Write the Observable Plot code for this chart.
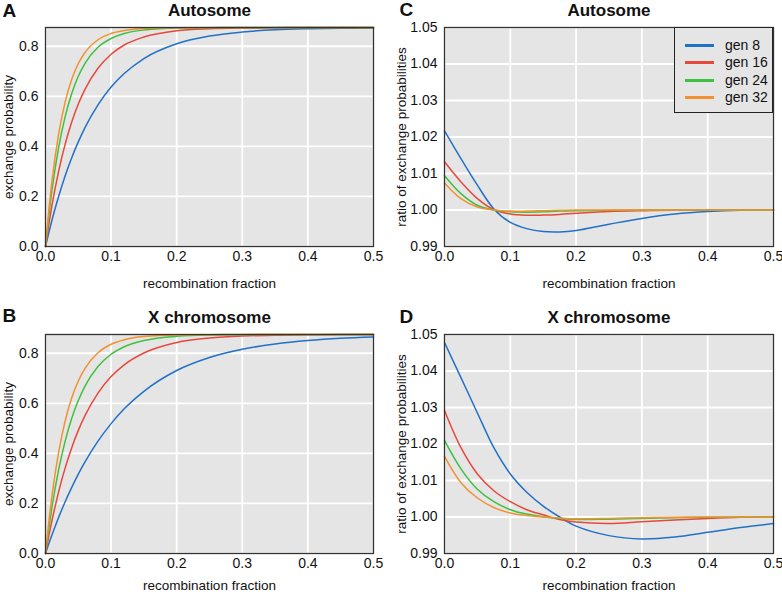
<!DOCTYPE html>
<html><head><meta charset="utf-8">
<script src="https://cdn.jsdelivr.net/npm/d3@7"></script>
<script src="https://cdn.jsdelivr.net/npm/@observablehq/plot@0.6"></script>
<style>
body{margin:0;background:#fff;}
#wrap{position:relative;width:782px;height:594px;font-family:"Liberation Sans",Arial,sans-serif;}
.panel{position:absolute;}
#legend{position:absolute;left:674px;top:27px;width:99px;height:86px;box-sizing:border-box;border:1.2px solid #222;background:#e5e5e5;}
.li{position:absolute;left:0;height:18px;width:100%;}
.sw{position:absolute;left:10px;width:29px;height:3px;top:8px;}
.lt{position:absolute;left:50px;top:0;font-size:14px;line-height:18px;color:#111;}
</style></head><body><div id="wrap"></div>
<script>
const gens = ["gen 8", "gen 16", "gen 24", "gen 32"];
const colors = ["#2271c8", "#e8483c", "#40c040", "#f39130"];
const xTicks = [0, 0.1, 0.2, 0.3, 0.4, 0.5];
const exchTicks = [0, 0.2, 0.4, 0.6, 0.8];
const ratioTicks = [0.99, 1.00, 1.01, 1.02, 1.03, 1.04, 1.05];

// exchange probabilities (panels A, B)
const rExch = [0, 0.005, 0.01, 0.02, 0.03, 0.04, 0.05, 0.06, 0.08, 0.1, 0.12, 0.15, 0.2, 0.25, 0.3, 0.35, 0.4, 0.45, 0.5];
const autoExch8  = [0, 0.055, 0.107, 0.200, 0.283, 0.355, 0.418, 0.474, 0.566, 0.637, 0.691, 0.751, 0.810, 0.841, 0.857, 0.866, 0.870, 0.872, 0.873];
const autoExch16 = [0, 0.087, 0.166, 0.300, 0.409, 0.497, 0.569, 0.627, 0.712, 0.768, 0.805, 0.837, 0.862, 0.870, 0.873, 0.874, 0.875, 0.875, 0.875];
const autoExch24 = [0, 0.122, 0.227, 0.395, 0.519, 0.611, 0.680, 0.731, 0.796, 0.831, 0.851, 0.865, 0.873, 0.874, 0.875, 0.875, 0.875, 0.875, 0.875];
const autoExch32 = [0, 0.144, 0.264, 0.449, 0.578, 0.668, 0.731, 0.774, 0.826, 0.851, 0.863, 0.871, 0.874, 0.875, 0.875, 0.875, 0.875, 0.875, 0.875];
const xExch8  = [0, 0.039, 0.075, 0.144, 0.207, 0.264, 0.317, 0.365, 0.449, 0.519, 0.578, 0.648, 0.731, 0.783, 0.816, 0.837, 0.851, 0.860, 0.865];
const xExch16 = [0, 0.069, 0.133, 0.246, 0.342, 0.423, 0.492, 0.550, 0.641, 0.707, 0.754, 0.801, 0.843, 0.861, 0.869, 0.872, 0.874, 0.875, 0.875];
const xExch24 = [0, 0.099, 0.187, 0.334, 0.449, 0.540, 0.611, 0.668, 0.747, 0.796, 0.826, 0.851, 0.868, 0.873, 0.874, 0.875, 0.875, 0.875, 0.875];
const xExch32 = [0, 0.126, 0.233, 0.404, 0.530, 0.622, 0.689, 0.739, 0.802, 0.836, 0.854, 0.867, 0.873, 0.874, 0.875, 0.875, 0.875, 0.875, 0.875];

// ratios of exchange probabilities (panels C, D)
const rRatio = [0, 0.025, 0.05, 0.075, 0.1, 0.125, 0.15, 0.175, 0.2, 0.25, 0.3, 0.35, 0.4, 0.45, 0.5];
const autoRatio8  = [1.0217, 1.0141, 1.0068, 1.0003, 0.9966, 0.9949, 0.9941, 0.9940, 0.9944, 0.9961, 0.9977, 0.9989, 0.9996, 0.99995, 1.0000];
const autoRatio16 = [1.0132, 1.0077, 1.0031, 1.0001, 0.9989, 0.99855, 0.9986, 0.9988, 0.9991, 0.9996, 0.9998, 0.9999, 1.0, 1.0, 1.0];
const autoRatio24 = [1.0094, 1.0045, 1.0013, 1.0000, 0.9995, 0.9994, 0.9995, 0.9997, 0.9998, 0.9999, 1.0, 1.0, 1.0, 1.0, 1.0];
const autoRatio32 = [1.0074, 1.0031, 1.0008, 1.0000, 0.9997, 0.9997, 0.9998, 0.9999, 1.0, 1.0, 1.0, 1.0, 1.0, 1.0, 1.0];
const xRatio8  = [1.0478, 1.0382, 1.0285, 1.0190, 1.0118, 1.0068, 1.0030, 1.0000, 0.9975, 0.9949, 0.9940, 0.9945, 0.9958, 0.9971, 0.9982];
const xRatio16 = [1.0292, 1.0190, 1.0118, 1.0072, 1.0042, 1.0020, 1.0006, 0.9993, 0.9986, 0.9982, 0.9987, 0.9992, 0.9996, 0.9999, 1.0];
const xRatio24 = [1.0210, 1.0132, 1.0076, 1.0042, 1.0020, 1.0008, 1.0001, 0.9996, 0.9993, 0.9994, 0.9996, 0.9998, 0.9999, 1.0, 1.0];
const xRatio32 = [1.0166, 1.0094, 1.0052, 1.0026, 1.0011, 1.0004, 1.0000, 0.9997, 0.9995, 0.9996, 0.9998, 0.9999, 1.0, 1.0, 1.0];

function makeTable(r, series) {
  const rows = [];
  series.forEach((vals, i) => vals.forEach((v, j) => rows.push({r: r[j], v, gen: gens[i]})));
  return rows;
}

const FONT = '"Liberation Sans", Arial, Helvetica, sans-serif';

function panel(o) {
  return Plot.plot({
    width: 391, height: 297,
    marginTop: o.mt, marginBottom: o.mb, marginLeft: o.ml, marginRight: o.mr,
    style: {fontFamily: FONT, fontSize: "14px", background: "white", overflow: "visible", color: "#111"},
    x: {domain: [0, 0.5]},
    y: {domain: o.yDomain},
    color: {domain: gens, range: colors},
    marks: [
      Plot.frame({fill: "#e5e5e5"}),
      Plot.gridX(xTicks, {stroke: "white", strokeOpacity: 1, strokeWidth: 1.8}),
      Plot.gridY(o.yTicks, {stroke: "white", strokeOpacity: 1, strokeWidth: 1.8}),
      Plot.axisX(xTicks, {tickSize: 0, tickPadding: 5, tickFormat: d3.format(".1f"), label: null, fontSize: 14}),
      Plot.axisY(o.yTicks, {tickSize: 0, tickPadding: 7, tickFormat: d3.format(o.yFmt), label: null, fontSize: 14}),
      Plot.line(o.rows, {x: "r", y: "v", stroke: "gen", strokeWidth: 1.5, curve: o.curve}),
      Plot.frame({stroke: "#333", strokeWidth: 1.3}),
      Plot.text([o.title], {text: d => d, frameAnchor: "top", dy: -17, lineAnchor: "middle", textAnchor: "middle", fontWeight: "bold", fontSize: 17}),
      Plot.text([o.letter], {text: d => d, frameAnchor: "top-left", dx: o.letterDx, dy: o.letterDy, textAnchor: "start", lineAnchor: "middle", fontWeight: "bold", fontSize: 19}),
      Plot.text([o.yLabel], {text: d => d, frameAnchor: "left", dx: o.yLabelDx, rotate: -90, textAnchor: "middle", lineAnchor: "middle", fontSize: 13.5}),
      Plot.text(["recombination fraction"], {text: d => d, frameAnchor: "bottom", dy: o.xLabelDy, textAnchor: "middle", lineAnchor: "middle", fontSize: 13.5})
    ]
  });
}

const wrap = document.getElementById("wrap");
function place(svg, left, top) {
  const d = document.createElement("div");
  d.className = "panel";
  d.style.left = left + "px";
  d.style.top = top + "px";
  d.appendChild(svg);
  wrap.appendChild(d);
}

place(panel({
  rows: makeTable(rExch, [autoExch8, autoExch16, autoExch24, autoExch32]),
  yDomain: [0, 0.875], yTicks: exchTicks, yFmt: ".1f", curve: "monotone-x",
  yLabel: "exchange probability", title: "Autosome", letter: "A",
  mt: 27, mb: 51, ml: 45, mr: 18, letterDx: -43, letterDy: -17, yLabelDx: -37, xLabelDy: 37
}), 0, 0);

place(panel({
  rows: makeTable(rExch, [xExch8, xExch16, xExch24, xExch32]),
  yDomain: [0, 0.875], yTicks: exchTicks, yFmt: ".1f", curve: "monotone-x",
  yLabel: "exchange probability", title: "X chromosome", letter: "B",
  mt: 37, mb: 41, ml: 45, mr: 18, letterDx: -43, letterDy: -19, yLabelDx: -37, xLabelDy: 32
}), 0, 297);

place(panel({
  rows: makeTable(rRatio, [autoRatio8, autoRatio16, autoRatio24, autoRatio32]),
  yDomain: [0.99, 1.05], yTicks: ratioTicks, yFmt: ".2f", curve: "catmull-rom",
  yLabel: "ratio of exchange probabilities", title: "Autosome", letter: "C",
  mt: 27, mb: 51, ml: 53, mr: 9, letterDx: -45, letterDy: -18, yLabelDx: -43, xLabelDy: 37
}), 391, 0);

place(panel({
  rows: makeTable(rRatio, [xRatio8, xRatio16, xRatio24, xRatio32]),
  yDomain: [0.99, 1.05], yTicks: ratioTicks, yFmt: ".2f", curve: "catmull-rom",
  yLabel: "ratio of exchange probabilities", title: "X chromosome", letter: "D",
  mt: 37, mb: 41, ml: 53, mr: 9, letterDx: -45, letterDy: -18, yLabelDx: -43, xLabelDy: 32
}), 391, 297);

// legend (panel C)
const lg = document.createElement("div");
lg.id = "legend";
gens.forEach((g, i) => {
  const li = document.createElement("div");
  li.className = "li";
  li.style.top = (8 + i * 17.3) + "px";
  const sw = document.createElement("div");
  sw.className = "sw";
  sw.style.background = colors[i];
  const t = document.createElement("div");
  t.className = "lt";
  t.textContent = g;
  li.appendChild(sw); li.appendChild(t);
  lg.appendChild(li);
});
wrap.appendChild(lg);
</script>
</body></html>
